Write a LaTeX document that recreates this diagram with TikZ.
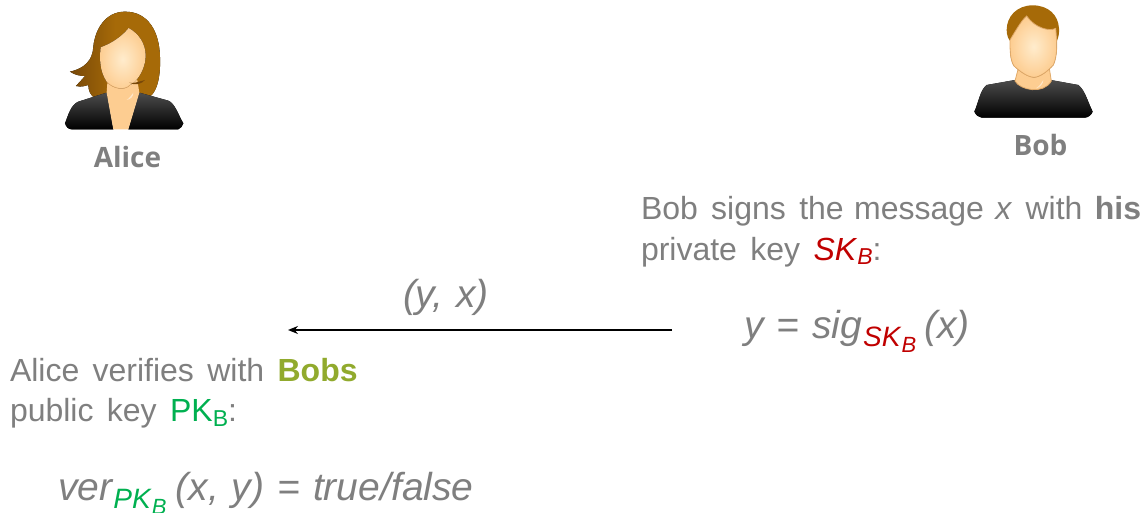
\documentclass[tikz,border=0pt]{standalone}
\usepackage{fontspec}
\setmainfont[WordSpace=1.5]{Liberation Sans}
\newfontfamily\labelfont{Open Sans}
\newfontfamily\formulafont[WordSpace=1.2]{Liberation Sans}
\usetikzlibrary{arrows.meta}
\definecolor{txtgray}{RGB}{127,127,127}
\definecolor{olivegreen}{RGB}{145,170,45}
\definecolor{keygreen}{RGB}{0,176,80}
\definecolor{keyred}{RGB}{192,0,0}
\definecolor{hairc}{RGB}{166,106,8}
\definecolor{hairdark}{RGB}{120,72,8}
\definecolor{skinc}{RGB}{253,205,145}
\definecolor{skinlight}{RGB}{255,236,205}
\definecolor{skinedge}{RGB}{225,170,105}
\newcommand{\txt}{\fontsize{32}{40}\selectfont}
\newcommand{\frm}{\formulafont\fontsize{39}{44}\selectfont}
\newcommand{\bigsub}[1]{\raisebox{-8pt}{\fontsize{28}{30}\selectfont #1}}
\newcommand{\smallsub}[1]{\raisebox{-5pt}{\fontsize{23}{26}\selectfont #1}}
\newcommand{\tinysub}[1]{\raisebox{-6pt}{\fontsize{22}{24}\selectfont #1}}
\tikzset{
  txtline/.style={anchor=base west,inner sep=0pt,outer sep=0pt,text=txtgray,font=\txt},
  formula/.style={anchor=base west,inner sep=0pt,outer sep=0pt,text=txtgray,font=\frm},
  person/.style={anchor=base,inner sep=0pt,text=txtgray,font=\labelfont\bfseries\fontsize{28}{30}\selectfont},
  msg/.style={-{Stealth[length=10pt,width=8pt]},line width=1.3pt,black},
  cloth/.style={top color=black!70,bottom color=black,middle color=black!85},
}
\begin{document}
\begin{tikzpicture}[x=1pt,y=-1pt]
\useasboundingbox (0,0) rectangle (1146,513);
% Alice
\begin{scope}[shift={(50,0)},x=0.3333pt,y=-0.3333pt]
\fill[left color=hairdark,right color=hairc,middle color=hairc]
  (225,35) .. controls (165,35) and (135,90) .. (130,140)
  .. controls (128,180) and (105,205) .. (60,215)
  .. controls (75,225) and (90,228) .. (105,228)
  .. controls (95,240) and (85,250) .. (78,258)
  .. controls (95,262) and (105,258) .. (115,255)
  .. controls (115,270) and (120,285) .. (135,295)
  -- (300,290)
  .. controls (325,270) and (332,220) .. (330,170)
  .. controls (328,95) and (295,35) .. (225,35) -- cycle;
\fill[cloth]
  (170,278) -- (190,388) -- (65,388) .. controls (55,388) and (48,380) .. (45,370)
  .. controls (55,345) and (62,315) .. (85,305) -- cycle;
\fill[cloth]
  (268,278) -- (235,388) -- (385,388) .. controls (392,385) and (398,378) .. (400,370)
  .. controls (385,345) and (375,310) .. (355,302) -- cycle;
\fill[skinc] (172,250) -- (170,278) -- (190,388) -- (235,388) -- (268,278) -- (262,240) -- cycle;
\fill[white,opacity=.5] (230,300) .. controls (238,295) and (245,285) .. (250,278) .. controls (250,290) and (242,298) .. (230,300) -- cycle;
\fill[inner color=skinlight,outer color=skinc]
  (236,84) .. controls (215,110) and (185,130) .. (152,142)
  .. controls (148,180) and (150,215) .. (170,245)
  .. controls (190,268) and (225,272) .. (240,255)
  .. controls (255,250) and (285,215) .. (287,170)
  .. controls (288,130) and (265,100) .. (236,84) -- cycle;
\draw[skinedge,line width=0.6pt] (170,245) .. controls (190,268) and (225,272) .. (240,255);
\fill[hairdark] (238,248) .. controls (250,252) and (265,245) .. (285,240) .. controls (275,252) and (255,258) .. (238,248) -- cycle;
\end{scope}
% Bob
\begin{scope}[shift={(960,0)},x=0.3333pt,y=-0.3333pt]
\fill[cloth]
  (165,240) -- (80,255) .. controls (60,270) and (55,310) .. (43,335)
  .. controls (48,345) and (55,352) .. (65,353) -- (375,353)
  .. controls (385,352) and (395,345) .. (398,335)
  .. controls (385,310) and (375,270) .. (355,255) -- (272,240) -- cycle;
\fill[skinc,draw=skinedge,line width=0.8pt]
  (175,205) -- (165,243) .. controls (180,270) and (250,285) .. (274,243) -- (268,205) -- cycle;
\fill[white,opacity=.5] (228,265) .. controls (238,258) and (245,250) .. (250,240) .. controls (250,252) and (240,262) .. (228,265) -- cycle;
\fill[hairc]
  (218,16) .. controls (170,16) and (140,50) .. (140,90) .. controls (140,105) and (145,118) .. (152,125)
  -- (290,125) .. controls (296,110) and (298,100) .. (297,85)
  .. controls (295,45) and (265,16) .. (218,16) -- cycle;
\fill[inner color=skinlight,outer color=skinc,draw=skinedge,line width=0.8pt]
  (200,48) .. controls (185,60) and (165,95) .. (150,120)
  .. controls (150,150) and (150,180) .. (162,198)
  .. controls (180,215) and (205,232) .. (222,232)
  .. controls (240,232) and (265,212) .. (280,195)
  .. controls (292,170) and (292,130) .. (287,85)
  .. controls (270,95) and (225,85) .. (200,48) -- cycle;
\end{scope}
\node[person] (alice) at (127.5,168) {Alice};
\node[person] (bob) at (1040.5,156) {Bob};
% Bob's text
\node[txtline] (bob1) at (641,220) {Bob signs the\hspace{-3pt} message\hspace{-2pt} \textit{x} with\hspace{-1pt} \textbf{his}};
\node[txtline] (bob2) at (641,260) {private key \textcolor{keyred}{\textit{SK}\smallsub{\textit{B}}}:};
\node[formula] (sig) at (744,338) {\textit{y = sig}\hspace{1pt}\textcolor{keyred}{\bigsub{\textit{SK}\tinysub{\textit{B}}}}\hspace{8pt}\textit{(x)}};
\node[formula] (msgl) at (403,307) {\textit{(y, x)}};
% Arrow
\coordinate (from) at (672,330);
\coordinate (to) at (288,330);
\draw[msg] (from) -- (to);
% Alice's text
\node[txtline] (al1) at (10,381) {Alice verifies with \textcolor{olivegreen}{\textbf{Bobs}}};
\node[txtline] (al2) at (10,421) {public key \textcolor{keygreen}{PK\smallsub{B}}:};
\node[formula] (ver) at (58,500) {\textit{ver}\textcolor{keygreen}{\bigsub{\textit{PK}\tinysub{\textit{B}}}}\hspace{9pt}\textit{(x, y) = true/false}};
\end{tikzpicture}
\end{document}
